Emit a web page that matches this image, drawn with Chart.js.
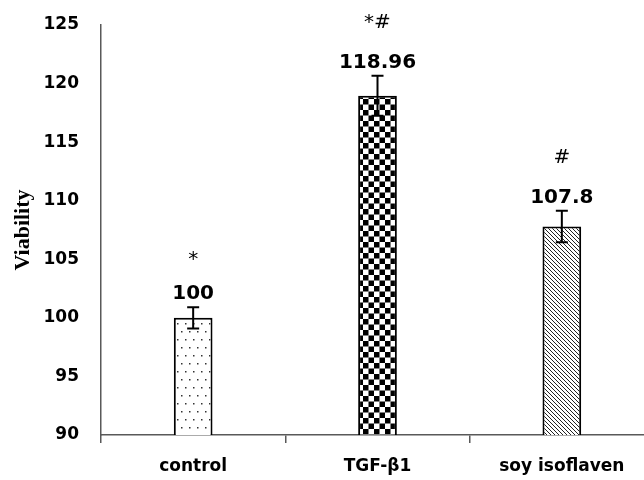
<!DOCTYPE html>
<html><head><meta charset="utf-8">
<script src="https://cdn.jsdelivr.net/npm/chart.js@4.4.1/dist/chart.umd.min.js"></script>
<style>
html,body{margin:0;padding:0;background:#fff;overflow:hidden}
#wrap{position:relative;width:654px;height:480px}
</style>
</head><body><div id="wrap"><canvas id="c"></canvas></div>
<script>
const categories = ['control', 'TGF-β1', 'soy isoflaven'];
const viability = [100, 118.96, 107.8];
const errors = [0.9, 1.7, 1.35];
const sigLabels = ['*', '*#', '#'];
const yTicks = [90, 95, 100, 105, 110, 115, 120, 125];

function makePattern(w, h, draw) {
  const cv = document.createElement('canvas');
  cv.width = w; cv.height = h;
  const g = cv.getContext('2d');
  g.fillStyle = '#fff'; g.fillRect(0, 0, w, h);
  draw(g);
  return document.getElementById('c').getContext('2d').createPattern(cv, 'repeat');
}
const dots = makePattern(8, 16, g => {
  g.fillStyle = '#333';
  g.fillRect(1, 3, 1.5, 1.5);
  g.fillRect(5, 11, 1.5, 1.5);
});
const checker = makePattern(11, 11, g => {
  g.fillStyle = '#000';
  g.fillRect(0, 0, 5.5, 5.5);
  g.fillRect(5.5, 5.5, 5.5, 5.5);
});
const hatch = makePattern(4, 4, g => {
  g.strokeStyle = '#222'; g.lineWidth = 1;
  g.beginPath();
  g.moveTo(-1, -1); g.lineTo(5, 5);
  g.moveTo(-1, 3); g.lineTo(1, 5);
  g.moveTo(3, -1); g.lineTo(5, 1);
  g.stroke();
});

const annot = {
  id: 'annot',
  afterDatasetsDraw(chart, args, opts) {
    const ctx = chart.ctx;
    const meta = chart.getDatasetMeta(0);
    const y = chart.scales.y;
    ctx.save();
    meta.data.forEach((bar, i) => {
      const x = bar.x;
      const top = y.getPixelForValue(viability[i] + errors[i]);
      const bot = y.getPixelForValue(viability[i] - errors[i]);
      ctx.strokeStyle = '#000'; ctx.lineWidth = 2;
      ctx.beginPath();
      ctx.moveTo(x, top); ctx.lineTo(x, bot);
      ctx.moveTo(x - 6, top); ctx.lineTo(x + 6, top);
      ctx.moveTo(x - 6, bot); ctx.lineTo(x + 6, bot);
      ctx.stroke();
      ctx.fillStyle = '#000';
      ctx.textAlign = 'center';
      ctx.textBaseline = 'alphabetic';
      ctx.font = 'bold 20px "DejaVu Sans"';
      const vb = top - 8;
      ctx.fillText(String(viability[i]), x, vb);
      ctx.font = '20px "DejaVu Sans"';
      ctx.fillText(sigLabels[i], x, vb - opts.sigOffsets[i]);
    });
    ctx.restore();
  }
};

new Chart(document.getElementById('c'), {
  type: 'bar',
  data: {
    labels: categories,
    datasets: [{
      data: viability,
      backgroundColor: [dots, checker, hatch],
      borderColor: '#000',
      borderWidth: 2,
      borderSkipped: false,
      barPercentage: 0.21,
      categoryPercentage: 1
    }]
  },
  options: {
    responsive: true,
    maintainAspectRatio: false,
    animation: false,
    layout: { padding: { top: 25, left: 0, right: 0, bottom: 0 } },
    plugins: {
      legend: { display: false },
      tooltip: { enabled: false },
      annot: { sigOffsets: [34, 40, 40] }
    },
    scales: {
      x: {
        offset: true,
        grid: { display: true, drawOnChartArea: false, drawTicks: true, tickLength: 8, color: '#595959', lineWidth: 1.5, offset: true },
        border: { display: true, color: '#595959', width: 1.5 },
        ticks: { color: '#000', padding: 13, font: { family: 'DejaVu Sans', size: 17, weight: 'bold' } },
        afterFit(s) { s.height = 45; }
      },
      y: {
        min: 90, max: 125,
        grid: { display: false, drawTicks: true, tickLength: 14 },
        border: { display: true, color: '#595959', width: 1.5 },
        afterBuildTicks(s) { s.ticks = yTicks.map(v => ({ value: v })); },
        ticks: { color: '#000', padding: 8, font: { family: 'DejaVu Sans', size: 17, weight: 'bold' } },
        title: { display: true, text: 'Viability', color: '#000', padding: { top: 10, bottom: 0 }, font: { family: 'Liberation Serif', size: 22, weight: 'bold' } },
        afterFit(s) { s.width = 101; }
      }
    }
  },
  plugins: [annot]
});
</script>
</body></html>
